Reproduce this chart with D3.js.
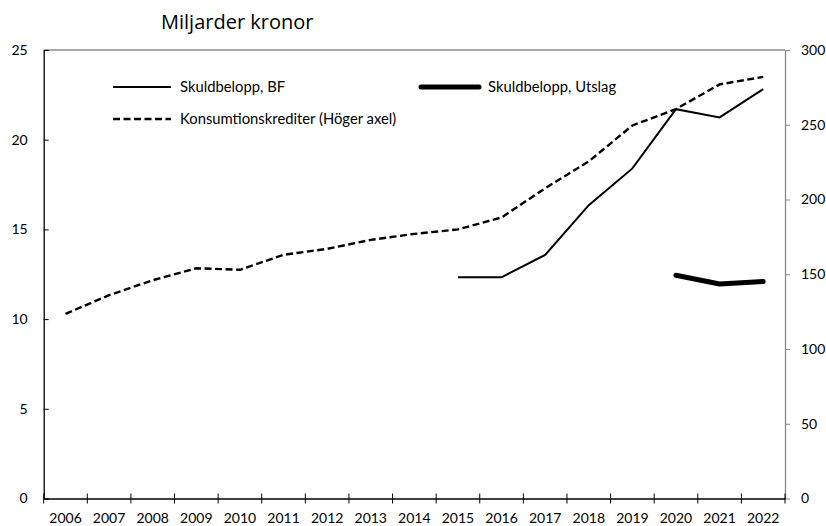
<!DOCTYPE html>
<html><head><meta charset="utf-8">
<script src="https://cdn.jsdelivr.net/npm/d3@7"></script>
<style>body{margin:0;background:#fff}svg{display:block}</style>
</head><body>
<svg id="c" width="826" height="526"></svg>
<script>
const years = ["2006","2007","2008","2009","2010","2011","2012","2013","2014","2015","2016","2017","2018","2019","2020","2021","2022"];
const konsumtion = [123.5,136,146,154,153,163,167,173,177,180,188,207.5,225.5,249.5,260.5,277,282];
const bfYears = ["2015","2016","2017","2018","2019","2020","2021","2022"];
const bf = [12.33,12.33,13.58,16.35,18.4,21.7,21.24,22.82];
const utslagYears = ["2020","2021","2022"];
const utslag = [12.44,11.96,12.09];
const leftTicks = [0,5,10,15,20,25];
const rightTicks = [0,50,100,150,200,250,300];

const svg = d3.select("#c");
const L = 43.7, R = 785, T = 50, B = 498.5;
const x = d3.scaleBand().domain(years).range([L, R]);
const yL = d3.scaleLinear().domain([0,25]).range([B, T]);
const yR = d3.scaleLinear().domain([0,300]).range([B, T]);
const cx = d => x(d) + x.bandwidth()/2;
const font = "Lato, 'Open Sans', sans-serif";

// top border
svg.append("line").attr("x1",L).attr("x2",R).attr("y1",T).attr("y2",T).attr("stroke","#888").attr("stroke-width",1.3);

// left axis
const gl = svg.append("g").attr("transform",`translate(${L},0)`)
  .call(d3.axisLeft(yL).tickValues(leftTicks).tickSizeInner(-5).tickSizeOuter(0).tickPadding(16));
gl.select(".domain").attr("stroke","#000").attr("stroke-width",1.3);
gl.selectAll(".tick line").attr("stroke","#000").attr("stroke-width",1);
gl.selectAll("text").attr("font-family",font).attr("font-size","14px").attr("fill","#000");

// right axis
const gr = svg.append("g").attr("transform",`translate(${R},0)`)
  .call(d3.axisRight(yR).tickValues(rightTicks).tickSizeInner(5).tickSizeOuter(0).tickPadding(11));
gr.select(".domain").attr("stroke","#888").attr("stroke-width",1.3);
gr.selectAll(".tick line").attr("stroke","#888").attr("stroke-width",1);
gr.selectAll("text").attr("font-family",font).attr("font-size","14px").attr("fill","#000");

// bottom axis
const gb = svg.append("g").attr("transform",`translate(0,${B})`)
  .call(d3.axisBottom(x).tickSize(0).tickPadding(15));
gb.select(".domain").attr("stroke","#000").attr("stroke-width",1.3);
gb.selectAll("text").attr("font-family",font).attr("font-size","14px").attr("fill","#000");
// boundary ticks crossing axis
const bounds = years.map(y => x(y)).concat([R]);
gb.selectAll("line.bt").data(bounds).enter().append("line").attr("class","bt")
  .attr("x1",d=>d).attr("x2",d=>d).attr("y1",-5).attr("y2",5).attr("stroke","#000").attr("stroke-width",1);

// lines
const lineR = d3.line().x((d,i)=>cx(years[i])).y(d=>yR(d));
svg.append("path").datum(konsumtion).attr("d",lineR).attr("fill","none")
  .attr("stroke","#000").attr("stroke-width",2.4).attr("stroke-dasharray","7,3.5");

const lineBF = d3.line().x((d,i)=>cx(bfYears[i])).y(d=>yL(d));
svg.append("path").datum(bf).attr("d",lineBF).attr("fill","none")
  .attr("stroke","#000").attr("stroke-width",2);

const lineU = d3.line().x((d,i)=>cx(utslagYears[i])).y(d=>yL(d));
svg.append("path").datum(utslag).attr("d",lineU).attr("fill","none")
  .attr("stroke","#000").attr("stroke-width",5).attr("stroke-linecap","round").attr("stroke-linejoin","round");

// legend
const leg = [
  {x:113, y:87, label:"Skuldbelopp, BF", w:2, dash:null, cap:"butt"},
  {x:113, y:119, label:"Konsumtionskrediter (Höger axel)", w:2.4, dash:"7,3.5", cap:"butt"},
  {x:421, y:87, label:"Skuldbelopp, Utslag", w:5, dash:null, cap:"round"}
];
leg.forEach(d=>{
  svg.append("line").attr("x1",d.x).attr("x2",d.x+58).attr("y1",d.y).attr("y2",d.y)
    .attr("stroke","#000").attr("stroke-width",d.w).attr("stroke-dasharray",d.dash).attr("stroke-linecap",d.cap);
  svg.append("text").attr("x",d.x+67).attr("y",d.y).attr("dy","0.35em")
    .attr("font-family",font).attr("font-size","14.8px").text(d.label);
});

// title
svg.append("text").attr("x",161).attr("y",29).attr("font-family","'Open Sans', 'Liberation Sans', sans-serif")
  .attr("font-size","20px").attr("fill","#000").text("Miljarder kronor");
</script>
</body></html>
